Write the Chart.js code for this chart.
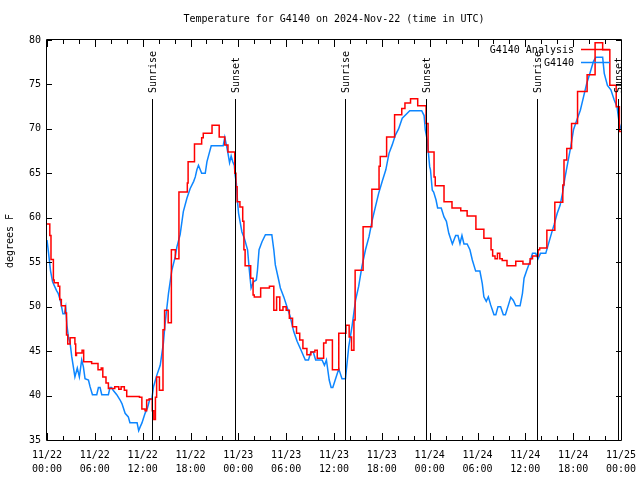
<!DOCTYPE html>
<html>
<head>
<meta charset="utf-8">
<script src="https://cdn.jsdelivr.net/npm/chart.js@4.4.1/dist/chart.umd.min.js"></script>
<style>
html,body{margin:0;padding:0;background:#fff;}
canvas{display:block;}
</style>
</head>
<body>
<canvas id="c" width="640" height="480"></canvas>
<script>
// ---- data (hours since 2024-11-22 00:00 UTC) ----
const analysisHours = [0,0.35,0.5,0.8,0.9,1.4,1.6,1.8,2.3,2.45,2.6,2.9,3.5,3.6,3.7,4.4,4.6,5.6,6.4,6.8,7.0,7.4,7.7,8.5,9.0,9.3,9.7,10.0,11.6,11.9,12.3,12.5,12.8,13.2,13.4,13.6,13.75,14.1,14.55,14.75,15.2,15.6,16.1,16.55,17.6,17.7,18.5,19.4,19.6,20.7,21.6,22.3,22.7,23.55,23.7,23.85,24.2,24.55,24.7,24.85,25.55,25.85,26.0,26.8,27.9,28.45,28.8,29.2,29.6,30.0,30.4,30.8,31.3,31.7,32.1,32.6,33.1,33.6,33.9,34.7,35.0,35.8,36.6,37.5,37.9,38.2,38.5,38.65,39.65,40.75,41.65,41.8,42.6,43.6,44.5,44.9,45.6,46.5,47.55,47.8,48.55,48.7,49.8,50.8,51.9,52.7,53.8,54.8,55.7,55.9,56.2,56.5,56.8,57.1,57.7,58.8,59.7,60.6,60.9,61.6,61.8,62.7,63.7,64.7,64.85,65.2,65.8,66.55,67.75,68.75,69.7,70.6,71.4,71.8,72];
const analysisTemps = [59.3,58.0,55.3,53.0,52.7,52.3,50.8,50.1,49.3,46.8,45.8,46.5,45.8,44.5,44.8,45.1,43.8,43.6,42.9,43.1,42.1,41.4,40.8,41.0,40.7,41.0,40.6,39.9,39.8,38.5,38.3,39.5,39.6,38.3,37.3,39.8,42.1,40.6,47.4,49.6,48.2,56.4,55.4,62.9,63.9,66.3,68.3,69.0,69.5,70.4,69.1,68.2,67.4,65.0,63.5,61.8,61.2,59.6,56.4,54.6,53.2,51.3,51.1,52.1,52.3,49.6,51.1,49.6,50.0,49.6,48.7,47.75,47.0,46.25,45.3,44.6,44.9,45.1,44.2,45.9,46.25,42.9,47.0,47.9,46.6,45.1,48.5,54.1,59.0,63.2,65.8,66.9,69.1,71.6,72.3,72.9,73.4,72.6,70.6,67.4,64.6,63.6,61.8,61.1,60.8,60.2,58.7,57.7,56.4,55.7,55.4,56.0,55.4,55.2,54.6,55.1,54.8,55.4,55.7,56.4,56.6,58.6,61.75,63.7,66.5,67.8,70.6,74.2,76.1,79.7,78.9,74.9,72.5,69.7,69.7];

const stationHours = [0,0.2,0.45,0.7,0.9,1.2,1.4,1.7,2.0,2.2,2.35,2.5,2.7,2.9,3.1,3.5,3.8,4.06,4.35,4.56,4.77,5.2,5.4,5.7,6.24,6.45,6.66,6.87,7.7,7.9,8.1,8.3,8.75,9.17,9.4,9.8,10.2,10.4,11.3,11.5,11.7,11.9,12.3,12.6,12.9,13.15,13.36,13.78,14.2,14.6,14.8,15.24,15.66,16.08,16.3,16.7,17.1,17.55,17.96,18.4,18.6,18.8,19.0,19.4,19.85,20.06,20.3,20.6,22.1,22.3,22.5,22.7,22.9,23.1,23.3,23.5,23.6,23.75,23.9,24.03,24.25,24.45,24.75,25.16,25.38,25.6,25.9,26.26,26.4,26.6,26.97,27.4,28.2,28.45,28.64,29.06,29.27,29.7,30.1,30.5,30.95,31.37,31.87,32.4,32.8,33.1,33.4,33.7,34.5,34.8,35.05,35.4,35.64,35.85,36.2,36.6,37.0,37.44,37.85,38.28,38.7,39.1,39.5,39.95,40.4,40.8,41.2,41.6,42.05,42.5,42.9,43.3,43.7,44.1,44.56,45.0,45.5,47.0,47.3,47.45,47.7,48.0,48.1,48.33,48.5,48.8,49.0,49.45,49.8,50.1,50.4,50.85,51.26,51.55,51.8,52.05,52.3,52.7,53.05,53.35,53.77,54.3,54.6,54.8,55.1,55.36,55.65,56.07,56.3,56.57,56.9,57.24,57.5,57.95,58.17,58.5,58.8,59.34,59.64,59.84,60.18,60.6,60.9,61.3,61.6,61.9,62.56,62.85,63.28,63.6,64.0,64.36,64.66,64.95,65.3,65.7,66.04,66.46,66.9,67.3,67.7,68.1,68.55,68.84,69.7,69.9,70.3,70.73,71.15,71.5,71.78,72.0];
const stationTemps = [57.5,56.0,54.0,52.8,52.4,51.8,51.5,50.6,49.2,49.2,49.9,47.9,46.5,45.9,44.4,42.1,43.1,42.1,44.0,43.25,41.9,41.75,41.0,40.1,40.1,40.9,40.9,40.1,40.1,40.9,40.9,40.6,40.1,39.5,39.1,38.0,37.6,36.95,36.95,36.05,36.5,36.9,38.0,38.6,39.6,39.6,41.0,42.3,43.4,45.9,48.0,51.5,54.1,55.6,56.75,58.1,60.7,62.2,63.3,64.1,64.6,65.4,65.9,65.0,65.0,66.3,67.1,68.1,68.1,69.05,68.2,67.25,66.2,66.95,66.3,65.9,64.8,63.9,61.8,60.5,59.4,58.4,57.7,56.4,54.1,52.1,52.8,53.0,54.1,56.4,57.3,58.1,58.1,56.4,54.7,53.0,52.1,51.1,50.0,48.9,47.2,46.1,45.1,44.0,44.0,44.9,44.9,44.0,44.0,43.4,44.0,41.75,40.9,40.9,41.9,43.0,41.9,41.9,45.5,47.9,50.7,52.3,54.5,56.4,57.9,59.75,61.25,62.75,64.1,65.4,67.25,68.2,69.3,70.0,71.2,71.6,72.05,72.05,71.5,69.9,68.75,65.75,65.4,63.1,62.9,62.0,61.1,61.1,60.1,59.6,58.25,57.05,58.0,58.0,57.1,58.0,57.05,57.05,56.4,55.25,54.0,54.0,52.6,51.1,50.6,51.1,50.2,49.1,49.1,50.0,50.0,49.1,49.1,50.4,51.05,50.7,50.1,50.1,51.5,53.2,54.1,55.1,56.0,56.0,55.4,56.0,56.0,56.9,58.25,59.2,60.5,61.4,62.75,64.4,66.1,68.0,69.9,71.0,72.1,73.6,75.1,76.25,77.6,78.05,78.05,76.25,74.9,74.4,73.25,72.5,70.6,70.0];

const sunHours = [13.23, 23.53, 37.35, 47.49, 61.47, 71.65];
const sunLabels = ['Sunrise','Sunset','Sunrise','Sunset','Sunrise','Sunset'];

const xTickHours = [0,6,12,18,24,30,36,42,48,54,60,66,72];
const yTickValues = [35,40,45,50,55,60,65,70,75,80];
const seriesNames = ['G4140 Analysis','G4140'];
const seriesColors = ['#ff0000','#0d86ff'];
const titleText = 'Temperature for G4140 on 2024-Nov-22 (time in UTC)';
const yTitleText = 'degrees F';

const FONT_FAMILY = '"DejaVu Sans Mono", "Liberation Mono", monospace';
const FONT = '10px ' + FONT_FAMILY;

function pad2(n){ return (n<10?'0':'')+n; }
function xLabel(v){
  const day = 22 + Math.floor(v/24);
  const hr = Math.round(v - Math.floor(v/24)*24);
  return ['11/'+day, pad2(hr)+':00'];
}

const decor = {
  id: 'decor',
  afterDatasetsDraw(chart){
    const {ctx, chartArea:a, scales} = chart;
    const x = scales.x, y = scales.y;
    ctx.save();
    ctx.strokeStyle = '#000';
    ctx.fillStyle = '#000';
    ctx.lineWidth = 1;
    // sunrise / sunset markers
    sunHours.forEach((h,i)=>{
      const px = Math.round(x.getPixelForValue(h)) + 0.5;
      ctx.beginPath(); ctx.moveTo(px, 99); ctx.lineTo(px, a.bottom); ctx.stroke();
      ctx.save();
      ctx.translate(px + 1, 93);
      ctx.rotate(-Math.PI/2);
      ctx.font = FONT; ctx.textAlign = 'left'; ctx.textBaseline = 'middle';
      ctx.fillText(sunLabels[i], 0, 0);
      ctx.restore();
    });
    // frame
    ctx.beginPath();
    ctx.rect(a.left - 0.5, a.top - 0.5, a.right - a.left + 1, a.bottom - a.top + 1);
    ctx.stroke();
    // x ticks (inside), minor every 2h, major every 6h
    ctx.beginPath();
    for (let h = 0; h <= 72; h += 2) {
      const px = Math.round(x.getPixelForValue(h)) + 0.5;
      const len = (h % 6 === 0) ? 7 : 4;
      ctx.moveTo(px, a.bottom); ctx.lineTo(px, a.bottom - len);
      ctx.moveTo(px, a.top); ctx.lineTo(px, a.top + len);
    }
    yTickValues.forEach(v=>{
      const py = Math.round(y.getPixelForValue(v)) + 0.5;
      ctx.moveTo(a.left, py); ctx.lineTo(a.left + 5, py);
      ctx.moveTo(a.right, py); ctx.lineTo(a.right - 5, py);
    });
    ctx.stroke();
    // legend
    ctx.font = FONT; ctx.textAlign = 'right'; ctx.textBaseline = 'middle';
    seriesNames.forEach((n,i)=>{
      const ly = 50 + i*13;
      ctx.fillStyle = '#000';
      ctx.fillText(n, 574, ly);
      ctx.strokeStyle = seriesColors[i]; ctx.lineWidth = 1.5;
      ctx.beginPath(); ctx.moveTo(581, ly - 0.5); ctx.lineTo(610, ly - 0.5); ctx.stroke();
    });
    // title
    ctx.fillStyle = '#000';
    ctx.textAlign = 'center';
    ctx.fillText(titleText, (a.left + a.right)/2, 19);
    // y title
    ctx.save();
    ctx.translate(10, 241);
    ctx.rotate(-Math.PI/2);
    ctx.fillText(yTitleText, 0, 0);
    ctx.restore();
    ctx.restore();
  }
};

new Chart(document.getElementById('c'), {
  type: 'line',
  data: {
    datasets: [
      {
        label: seriesNames[0],
        data: analysisHours.map((h,i)=>({x:h, y:analysisTemps[i]})),
        borderColor: seriesColors[0], borderWidth: 1.5,
        pointRadius: 0, stepped: true, fill: false, tension: 0
      },
      {
        label: seriesNames[1],
        data: stationHours.map((h,i)=>({x:h, y:stationTemps[i]})),
        borderColor: seriesColors[1], borderWidth: 1.5,
        pointRadius: 0, fill: false, tension: 0
      }
    ]
  },
  options: {
    responsive: false,
    animation: false,
    devicePixelRatio: 1,
    layout: { padding: { left: 0, right: 19, top: 40, bottom: 0 } },
    plugins: { legend: { display: false }, title: { display: false }, tooltip: { enabled: false } },
    scales: {
      x: {
        type: 'linear', min: 0, max: 72,
        afterBuildTicks: s => { s.ticks = xTickHours.map(v=>({value:v})); },
        afterFit: s => { s.height = 40; s.paddingRight = 0; s.paddingLeft = 0; },
        grid: { display: false, drawTicks: false },
        border: { display: false },
        ticks: {
          callback: v => xLabel(v),
          color: '#000', padding: 8, maxRotation: 0, autoSkip: false,
          font: { family: FONT_FAMILY, size: 10, lineHeight: 1.4 }
        }
      },
      y: {
        min: 35, max: 80,
        afterBuildTicks: s => { s.ticks = yTickValues.map(v=>({value:v})); },
        afterFit: s => { s.width = 47; s.paddingTop = 0; s.paddingBottom = 0; },
        grid: { display: false, drawTicks: false },
        border: { display: false },
        ticks: {
          color: '#000', padding: 6,
          font: { family: FONT_FAMILY, size: 10 }
        }
      }
    }
  },
  plugins: [decor]
});
</script>
</body>
</html>
